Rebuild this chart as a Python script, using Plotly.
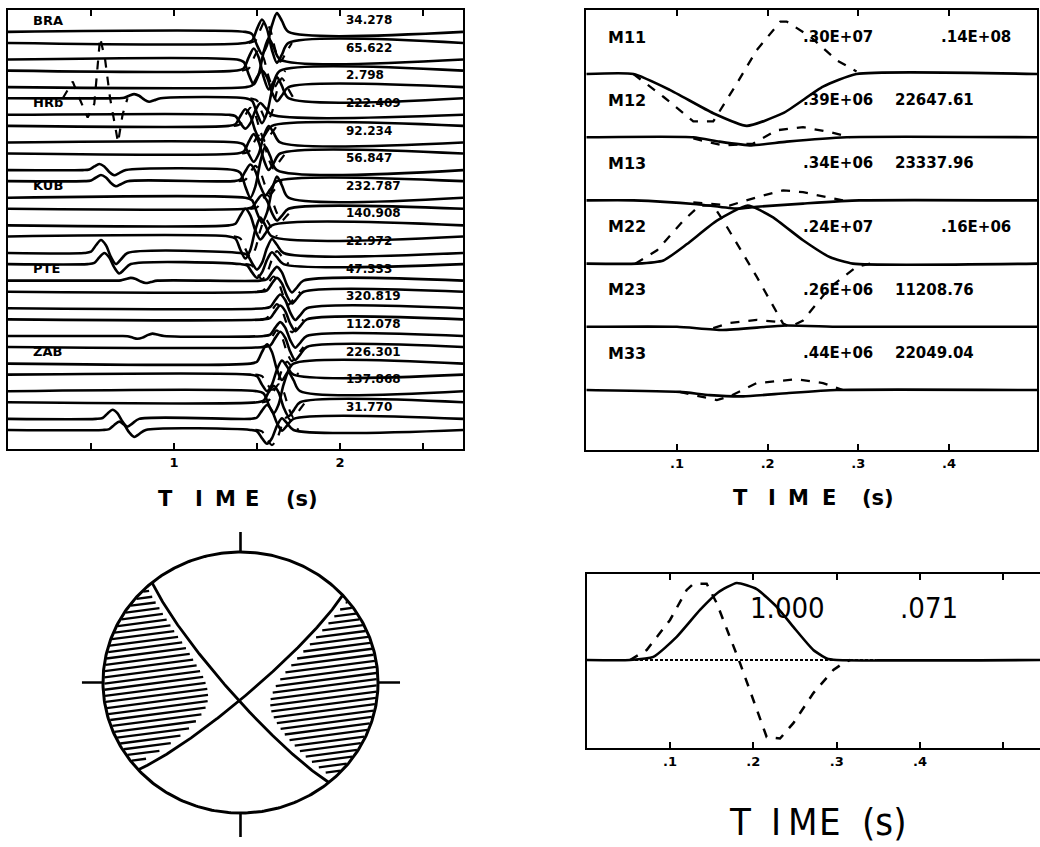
import numpy as np
import plotly.graph_objects as go

W, H = 1040, 847

# ---------------- Panel A : station traces ----------------
ROW_VALUES = ["34.278", "65.622", "2.798", "222.409", "92.234", "56.847", "232.787",
              "140.908", "22.972", "47.333", "320.819", "112.078", "226.301", "137.868", "31.770"]
STATIONS = ["BRA", "HRb", "KUB", "PTE", "ZAB"]
STATION_ROWS = [0, 3, 6, 9, 12]
LINE_OFFSETS = [0.43, 0.83]          # two traces per row, in row units below the label
T_END = 2.741
# main pulse of every row
PULSE_T = [1.55, 1.50, 1.55, 1.45, 1.50, 1.48, 1.55, 1.45, 1.52, 1.64, 1.66, 1.66, 1.58, 1.62, 1.58]
AMP_UPPER = [-0.8, -0.9, 0.6, -0.5, -0.7, -1.0, -0.9, 0.6, -0.6, 0.5, 0.5, 0.5, 0.7, -0.8, 0.5]
AMP_LOWER = [0.85, 0.8, -0.9, 0.6, 0.7, 0.6, 0.5, -0.8, -0.5, 0.5, 0.5, 0.55, -0.6, 0.6, -0.5]
# dashed synthetic pulse of every row (drawn on the lower trace)
SYN_T = [1.57, 1.53, 1.58, 1.48, 1.53, 1.51, 1.58, 1.48, 1.55, 1.62, 1.64, 1.64, 1.61, 1.65, 1.61]
SYN_AMP = [0.8, 0.75, -0.85, 0.65, 0.65, 0.55, 0.5, -0.75, -0.55, 0.55, 0.55, 0.6, -0.55, 0.65, -0.55]
# normalised wavelet knots (read from the pulses)
WAVE_DT = [-0.12, -0.08, -0.05, -0.02, 0.01, 0.04, 0.07, 0.10, 0.14]
WAVE_Y = [0.0, 0.1, 0.6, 1.0, 0.6, -0.3, -0.85, -0.5, 0.0]
# small early arrivals: row, trace (0 upper / 1 lower), time, amplitude
EARLY_ROW = [2, 5, 5, 8, 8, 9, 11, 14, 14]
EARLY_LINE = [1, 0, 1, 0, 1, 0, 0, 0, 1]
EARLY_T = [0.78, 0.57, 0.58, 0.58, 0.60, 0.76, 0.80, 0.65, 0.69]
EARLY_AMP = [0.15, 0.22, 0.22, 0.47, 0.4, 0.1, -0.1, 0.33, 0.3]
# large dashed synthetic at HRB (row 2 lower trace)
HRB_SYN_T = [0.33, 0.36, 0.39, 0.43, 0.48, 0.52, 0.555, 0.585, 0.615, 0.663, 0.69, 0.72]
HRB_SYN_Y = [0.0, 0.3, 0.6, 0.0, -0.7, -0.2, 2.2, 1.4, 0.0, -1.6, -0.6, 0.0]

# ---------------- Panel B : moment tensor components ----------------
M_LABELS = ["M11", "M12", "M13", "M22", "M23", "M33"]
M_COL1 = [".30E+07", ".39E+06", ".34E+06", ".24E+07", ".26E+06", ".44E+06"]
M_COL2 = [".14E+08", "22647.61", "23337.96", ".16E+06", "11208.76", "22049.04"]
X2_END = 0.497
M_SOLID_T = [
    [0.052, 0.092, 0.140, 0.177, 0.217, 0.261, 0.298],
    [0.118, 0.147, 0.182, 0.221, 0.287],
    [0.052, 0.122, 0.166, 0.188, 0.239, 0.301],
    [0.056, 0.085, 0.111, 0.144, 0.178, 0.205, 0.239, 0.269, 0.294],
    [0.10, 0.15, 0.22, 0.28],
    [0.103, 0.136, 0.173, 0.221, 0.276],
]
M_SOLID_Y = [
    [0.0, -0.25, -0.62, -0.82, -0.62, -0.20, 0.0],
    [0.0, -0.07, -0.13, -0.07, 0.0],
    [0.0, -0.06, -0.13, -0.10, -0.05, 0.0],
    [0.0, 0.05, 0.31, 0.68, 0.92, 0.74, 0.37, 0.10, 0.0],
    [0.0, -0.05, 0.02, 0.0],
    [-0.03, -0.08, -0.10, -0.05, 0.0],
]
M_DASH_T = [
    [0.052, 0.085, 0.118, 0.140, 0.166, 0.188, 0.214, 0.221, 0.247, 0.276, 0.298],
    [0.118, 0.151, 0.184, 0.210, 0.239, 0.269, 0.291],
    [0.118, 0.158, 0.188, 0.217, 0.239, 0.283],
    [0.054, 0.078, 0.107, 0.125, 0.140, 0.151, 0.188, 0.217, 0.225, 0.239, 0.269, 0.298, 0.313],
    [0.140, 0.158, 0.188, 0.210, 0.221],
    [0.103, 0.144, 0.158, 0.188, 0.232, 0.261, 0.283],
]
M_DASH_Y = [
    [0.0, -0.36, -0.75, -0.75, -0.15, 0.38, 0.83, 0.83, 0.59, 0.22, 0.04],
    [-0.02, -0.13, -0.10, 0.11, 0.16, 0.08, 0.0],
    [-0.03, -0.08, 0.05, 0.16, 0.13, 0.0],
    [0.0, 0.21, 0.68, 0.92, 0.92, 0.68, -0.21, -0.95, -1.0, -0.9, -0.37, -0.05, 0.0],
    [-0.02, 0.06, 0.11, 0.08, 0.02],
    [-0.03, -0.16, -0.10, 0.11, 0.17, 0.11, 0.0],
]

# ---------------- Panel C : source time function ----------------
X3_END = 0.544
STF_T = [0.0, 0.052, 0.080, 0.108, 0.136, 0.158, 0.180, 0.204, 0.228, 0.248, 0.272, 0.288, 0.300, X3_END]
STF_Y = [0.0, 0.0, 0.04, 0.30, 0.65, 0.88, 1.0, 0.92, 0.69, 0.43, 0.13, 0.02, 0.0, 0.0]
DSTF_T = [0.052, 0.072, 0.100, 0.120, 0.128, 0.144, 0.156, 0.172, 0.184, 0.200, 0.216, 0.232,
          0.248, 0.272, 0.296, 0.308, 0.316]
DSTF_Y = [0.0, 0.13, 0.52, 0.91, 0.99, 0.99, 0.74, 0.30, -0.04, -0.52, -1.0, -1.02,
          -0.82, -0.43, -0.13, -0.04, 0.0]
ZERO_T = [0.052, 0.348]
STF_TEXT = ["1.000", ".071"]

# ---------------- Panel D : focal mechanism ----------------
STRIKES = [140.0, 48.0]
DIPS = [82.0, 82.0]
HATCH_THRESHOLD = 0.05

LW = 2.6
BOLD = "DejaVu Sans"
NARROW = "Liberation Sans Narrow, DejaVu Sans Condensed, Liberation Sans, sans-serif"

fig = go.Figure()


def add_line(x, y, ax, width=LW, dash="solid", shape="linear", smoothing=0.6):
    line = dict(color="black", width=width, dash=dash, shape=shape)
    if shape == "spline":
        line["smoothing"] = smoothing
    fig.add_trace(go.Scatter(x=x, y=y, mode="lines", line=line, xaxis="x" + ax, yaxis="y" + ax,
                             hoverinfo="skip", showlegend=False))


# ---- panel A traces
for r in range(len(ROW_VALUES)):
    for li, off in enumerate(LINE_OFFSETS):
        base = -(r + off)
        amp = AMP_UPPER[r] if li == 0 else AMP_LOWER[r]
        events = [(PULSE_T[r], amp)]
        for er, el, et, ea in zip(EARLY_ROW, EARLY_LINE, EARLY_T, EARLY_AMP):
            if er == r and el == li:
                events.append((et, ea))
        events.sort()
        ts, ys = [0.0], [base]
        for tc, a in events:
            for dt, w in zip(WAVE_DT, WAVE_Y):
                ts.append(tc + dt)
                ys.append(base + a * w)
        ts.append(T_END)
        ys.append(base)
        add_line(ts, ys, "", shape="spline", smoothing=0.8)
    base = -(r + LINE_OFFSETS[1])
    add_line([SYN_T[r] + dt for dt in WAVE_DT], [base + SYN_AMP[r] * w for w in WAVE_Y], "",
             width=2.2, dash="dash", shape="spline", smoothing=0.8)
add_line(HRB_SYN_T, [-(2 + LINE_OFFSETS[1]) + v for v in HRB_SYN_Y], "", width=2.2, dash="dash")

# ---- panel B curves
for k in range(len(M_LABELS)):
    base = -k
    add_line([0.0] + M_SOLID_T[k] + [X2_END], [base] + [base + v for v in M_SOLID_Y[k]] + [base], "2",
             shape="spline", smoothing=0.5)
    add_line(M_DASH_T[k], [base + v for v in M_DASH_Y[k]], "2", width=2.3, dash="dash")

# ---- panel C curves
add_line(STF_T, STF_Y, "3", shape="spline", smoothing=0.5)
add_line(DSTF_T, DSTF_Y, "3", width=2.5, dash="dash")
add_line(ZERO_T, [0, 0], "3", width=2.2, dash="3px,2px")
add_line([ZERO_T[1], X3_END], [0, 0], "3", width=2.2)

# ---- panel D focal sphere
def plane_vectors(strike, dip):
    s = np.radians(strike)
    d = np.radians(dip)
    dd = s + np.pi / 2
    sv = np.array([np.sin(s), np.cos(s), 0.0])
    dv = np.array([np.cos(d) * np.sin(dd), np.cos(d) * np.cos(dd), -np.sin(d)])
    nv = np.array([np.sin(d) * np.sin(dd), np.sin(d) * np.cos(dd), np.cos(d)])
    return sv, dv, nv


def project(v):
    v = np.atleast_2d(v)
    th = np.arccos(np.clip(-v[:, 2], -1, 1))
    r = np.sqrt(2) * np.sin(th / 2)
    h = np.hypot(v[:, 0], v[:, 1])
    h[h == 0] = 1
    return r * v[:, 0] / h, r * v[:, 1] / h


normals = []
for st, dp in zip(STRIKES, DIPS):
    sv, dv, nv = plane_vectors(st, dp)
    normals.append(nv)
    phi = np.linspace(0, np.pi, 200)
    vecs = np.outer(np.cos(phi), sv) + np.outer(np.sin(phi), dv)
    X, Y = project(vecs)
    add_line(X, Y, "4", width=2.8)

ang = np.linspace(0, 2 * np.pi, 361)
add_line(np.cos(ang), np.sin(ang), "4", width=3.0)
add_line([0, 0, None, 0, 0, None, -1, -1.153, None, 1, 1.16],
         [1, 1.153, None, -1, -1.184, None, 0, 0, None, 0, 0], "4", width=2.6)

# hatching of compressional quadrants
HATCH_SLOPE = 0.137
HATCH_STEP = 0.0475
hx, hy = [], []
Xs = np.linspace(-1, 1, 800)
for c in np.arange(-1.25, 1.25, HATCH_STEP):
    Ys = c + HATCH_SLOPE * Xs
    r2 = Xs ** 2 + Ys ** 2
    inside = r2 < 0.985
    r = np.sqrt(np.minimum(r2, 1.0))
    th = 2 * np.arcsin(r / np.sqrt(2))
    rr = np.where(r == 0, 1, r)
    v = np.stack([np.sin(th) * Xs / rr, np.sin(th) * Ys / rr, -np.cos(th)], axis=1)
    amp = (v @ normals[0]) * (v @ normals[1])
    mask = inside & (amp < -HATCH_THRESHOLD)
    i = 0
    n = len(Xs)
    while i < n:
        if mask[i]:
            j = i
            while j + 1 < n and mask[j + 1]:
                j += 1
            if j > i:
                hx += [Xs[i], Xs[j], None]
                hy += [Ys[i], Ys[j], None]
            i = j + 1
        else:
            i += 1
add_line(hx, hy, "4", width=2.3)

# ---------------- text ----------------
ann = []


def txt(px, py, s, size, family=BOLD, xanchor="left", weight="bold"):
    ann.append(dict(x=px / W, y=1 - py / H, xref="paper", yref="paper", text=s, showarrow=False,
                    xanchor=xanchor, yanchor="middle",
                    font=dict(size=size, family=family, color="black", weight=weight)))


for r, v in enumerate(ROW_VALUES):
    txt(344, 20 + 27.64 * r, v, 12)
for s, r in zip(STATIONS, STATION_ROWS):
    txt(31, 20 + 27.64 * r, s, 13)
for k, (lab, c1, c2) in enumerate(zip(M_LABELS, M_COL1, M_COL2)):
    py = 37 + 63.2 * k
    txt(606, py, lab, 16)
    txt(801, py, c1, 15)
    if c2.startswith("."):
        txt(939, py, c2, 15)
    else:
        txt(893, py, c2, 15)
txt(748, 608, STF_TEXT[0], 29, family=NARROW, weight="normal")
txt(898, 608, STF_TEXT[1], 29, family=NARROW, weight="normal")

TIME_LETTERS = ["T", "I", "M", "E", "(s)"]
for xs, py, size, fam, wt in [([165, 199, 225, 252, 302], 499, 21, BOLD, "bold"),
                              ([740, 772, 798, 829, 878], 498, 21, BOLD, "bold"),
                              ([740, 776, 803, 830, 884], 822, 38, NARROW, "normal")]:
    for lt, x in zip(TIME_LETTERS, xs):
        txt(x, py, lt, size, family=fam, xanchor="center", weight=wt)

tickfont = dict(size=13, family=BOLD, color="black", weight="bold")
common_x = dict(showline=True, linecolor="black", linewidth=2.4, mirror="ticks", ticks="inside",
                ticklen=6, tickwidth=2.2, tickcolor="black", showgrid=False, zeroline=False,
                tickfont=tickfont)
common_y = dict(showline=True, linecolor="black", linewidth=2.4, mirror=True, ticks="",
                showticklabels=False, showgrid=False, zeroline=False)

fig.update_layout(
    width=W, height=H, margin=dict(l=0, r=0, t=0, b=0),
    paper_bgcolor="white", plot_bgcolor="white", showlegend=False,
    annotations=ann,
    xaxis=dict(domain=[8 / W, 463 / W], range=[0, T_END], anchor="y",
               tickvals=[0.5, 1, 1.5, 2, 2.5], ticktext=["", "1", "", "2", ""], **common_x),
    yaxis=dict(domain=[1 - 449 / H, 1 - 10 / H], range=[-15.52, 0.362], anchor="x", **common_y),
    xaxis2=dict(domain=[586.3 / W, 1037 / W], range=[0, X2_END], anchor="y2",
                tickvals=[0.1, 0.2, 0.3, 0.4], ticktext=[".1", ".2", ".3", ".4"], **common_x),
    yaxis2=dict(domain=[1 - 450 / H, 1 - 10 / H], range=[-5.949, 1.013], anchor="x2", **common_y),
    xaxis3=dict(domain=[586.7 / W, 1.0], range=[0, X3_END], anchor="y3",
                tickvals=[0.1, 0.2, 0.3, 0.4, 0.5], ticktext=[".1", ".2", ".3", ".4", ""], **common_x),
    yaxis3=dict(domain=[1 - 748 / H, 1 - 574 / H], range=[-1.143, 1.117], anchor="x3",
                showline=True, linecolor="black", linewidth=2.4, mirror=False, ticks="",
                showticklabels=False, showgrid=False, zeroline=False),
    xaxis4=dict(domain=[0.05817, 0.40433], range=[-1.309, 1.309], visible=False, anchor="y4"),
    yaxis4=dict(domain=[1 - 845 / H, 1 - 520 / H], range=[-1.245, 1.245], visible=False, anchor="x4"),
)

fig.write_html("out.html")
